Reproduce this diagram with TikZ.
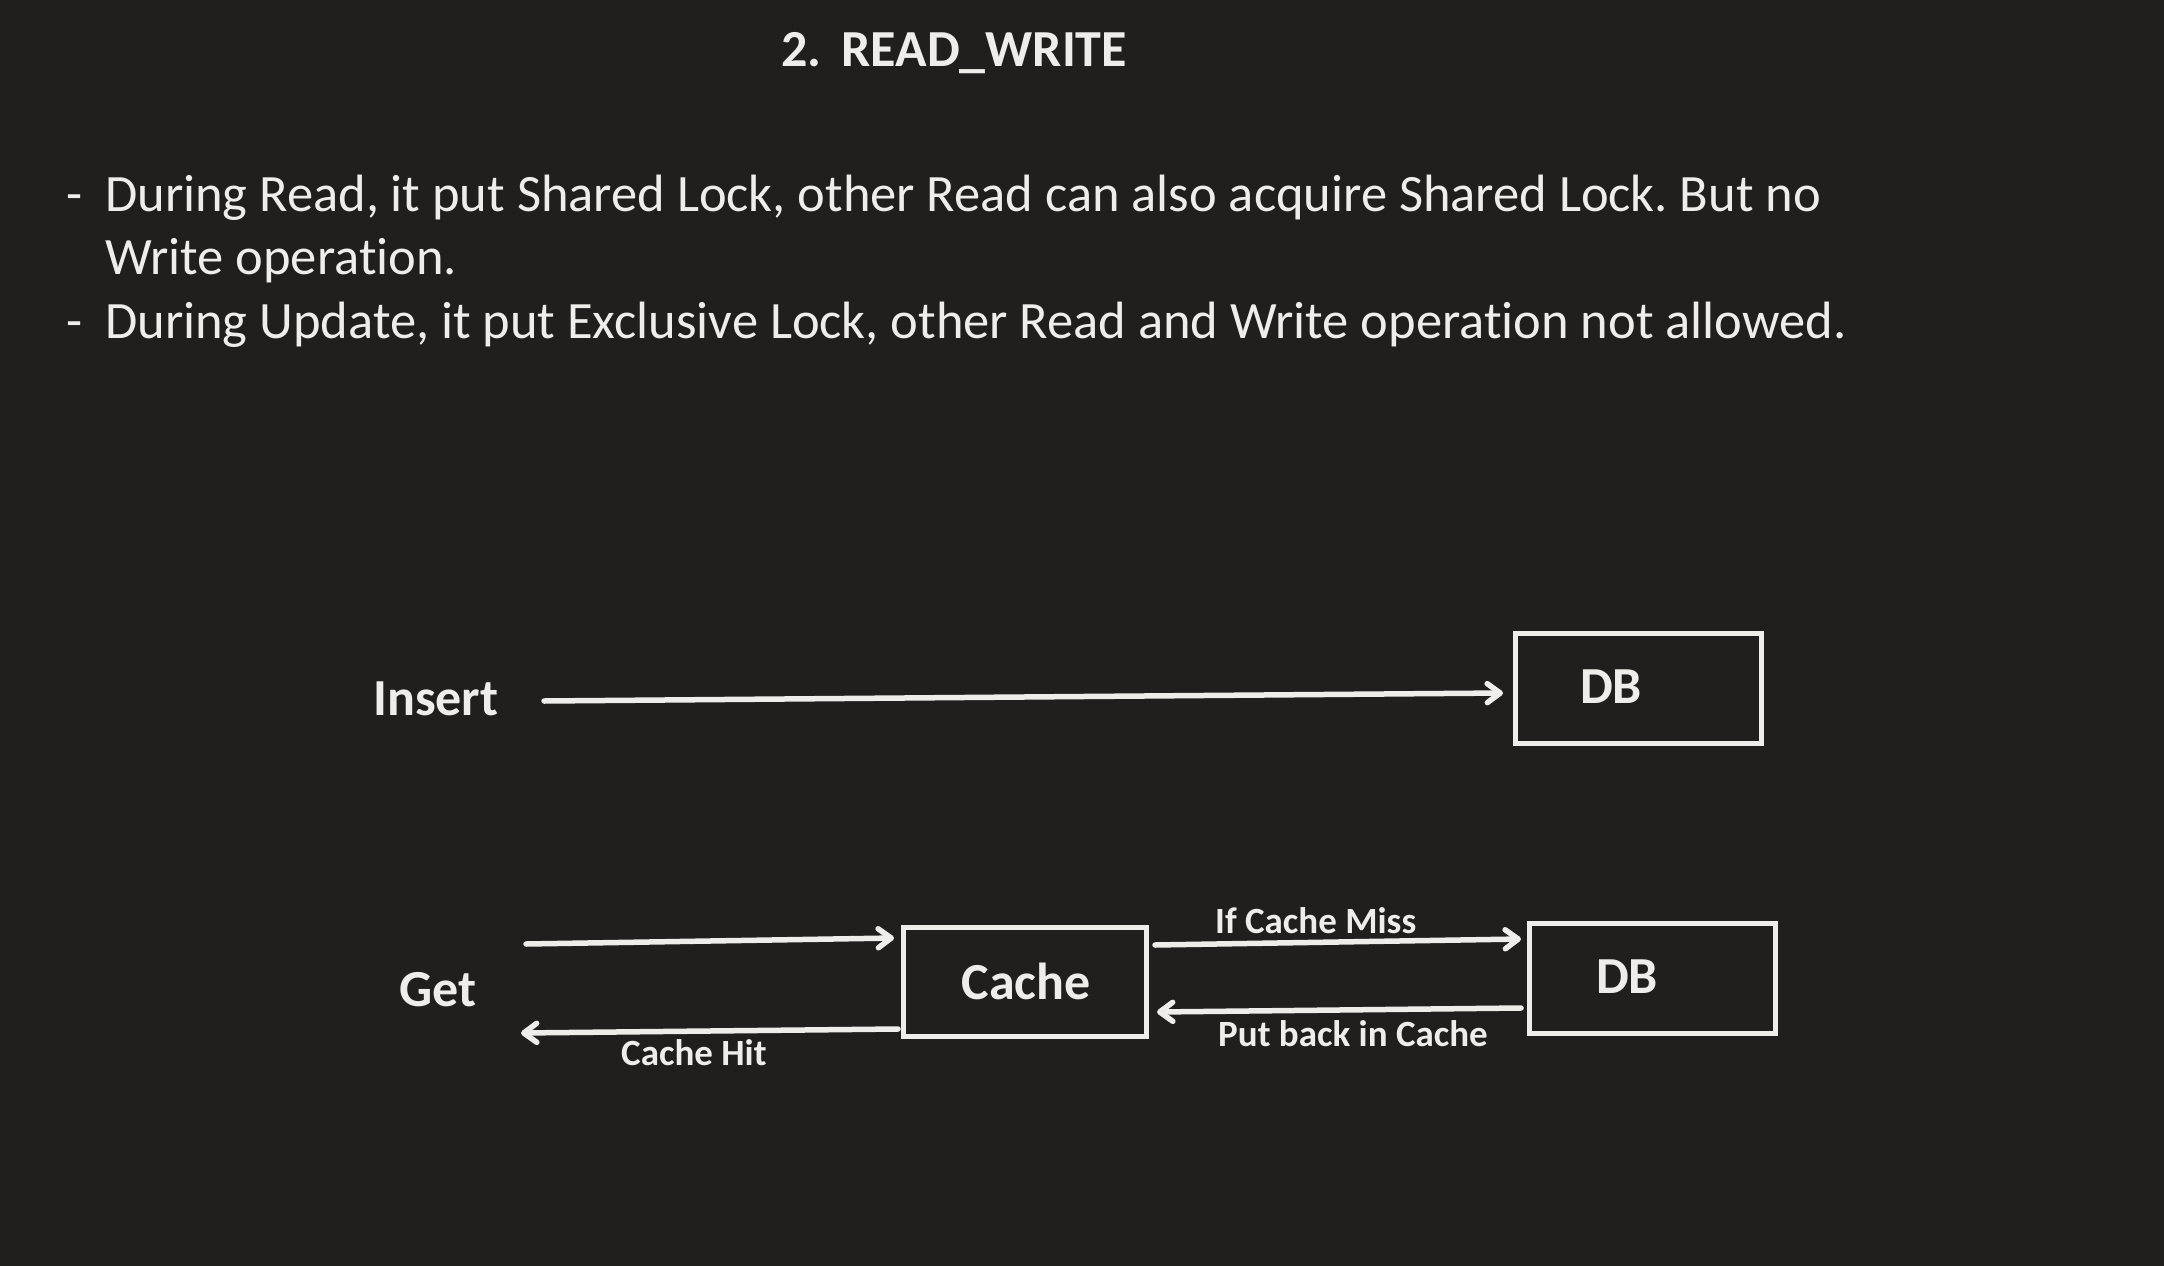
\documentclass[tikz,border=0pt]{standalone}
\usepackage{fontspec}
\setmainfont{Carlito}[Ligatures=NoCommon]
\usetikzlibrary{arrows.meta,calc}
\frenchspacing
\definecolor{bg}{RGB}{32,31,29}
\definecolor{fg}{RGB}{238,237,234}
\tikzset{
  txt/.style={inner sep=0pt,anchor=base west,text=fg,font=\fontsize{52.5}{63}\selectfont},
  lbl/.style={inner sep=0pt,anchor=base west,text=fg,font=\bfseries\fontsize{52}{63}\selectfont},
  small/.style={inner sep=0pt,anchor=base west,text=fg,font=\bfseries\fontsize{37}{44}\selectfont},
  box/.style={draw=fg,line width=5pt,inner sep=0pt},
  arr/.style={draw=fg,line width=5.5pt,line cap=round,-{Straight Barb[length=13pt,width=19pt,round]}}
}
\begin{document}
\begin{tikzpicture}[x=1pt,y=-1pt]
\path[fill=bg] (0,0) rectangle (2164,1266);
\useasboundingbox (0,0) rectangle (2164,1266);
% title
\node[lbl] (title) at (781,66) {2.\hspace{20pt}READ\_WRITE};
% bullets
\node[txt] (d1) at (66,211) {-};
\node[txt] (l1) at (105,211) {During Read, it put Shared Lock, other Read can also acquire Shared Lock. But no};
\node[txt] (l2) at (105,274) {Write operation.};
\node[txt] (d3) at (66,338) {-};
\node[txt] (l3) at (105,338) {During Update, it put Exclusive Lock, other Read and Write operation not allowed.};
% insert row
\node[lbl] (insert) at (373,715) {Insert};
\node[box,minimum width=246pt,minimum height=110pt] (db1) at (1638.5,688.5) {};
\node[lbl] (db1t) at (1580,703) {DB};
\coordinate (ins) at (544,701);
\draw[arr] (ins) -- ($(db1.west)+(-10,4.5)$);
% get row
\node[lbl] (get) at (399,1006) {Get};
\node[box,minimum width=243pt,minimum height=109pt] (cache) at (1025,982) {};
\node[lbl,anchor=center] (cachet) at (1026,981) {Cache};
\node[box,minimum width=246pt,minimum height=110pt] (db2) at (1652.5,978.5) {};
\node[lbl] (db2t) at (1596,993) {DB};
\coordinate (gin) at (526,944);
\coordinate (gout) at (521,1033);
\draw[arr] (gin) -- ($(cache.west)+(-7,-44)$);
\draw[arr] ($(cache.east)+(6,-37)$) -- ($(db2.west)+(-6,-39.5)$);
\draw[arr] ($(db2.west)+(-6,29.5)$) -- ($(cache.east)+(8,30)$);
\draw[arr] ($(cache.west)+(-3,47)$) -- (gout);
\node[small] (miss) at (1215,933) {If Cache Miss};
\node[small] (put) at (1218,1046) {Put back in Cache};
\node[small] (hit) at (621,1065) {Cache Hit};
\end{tikzpicture}
\end{document}
